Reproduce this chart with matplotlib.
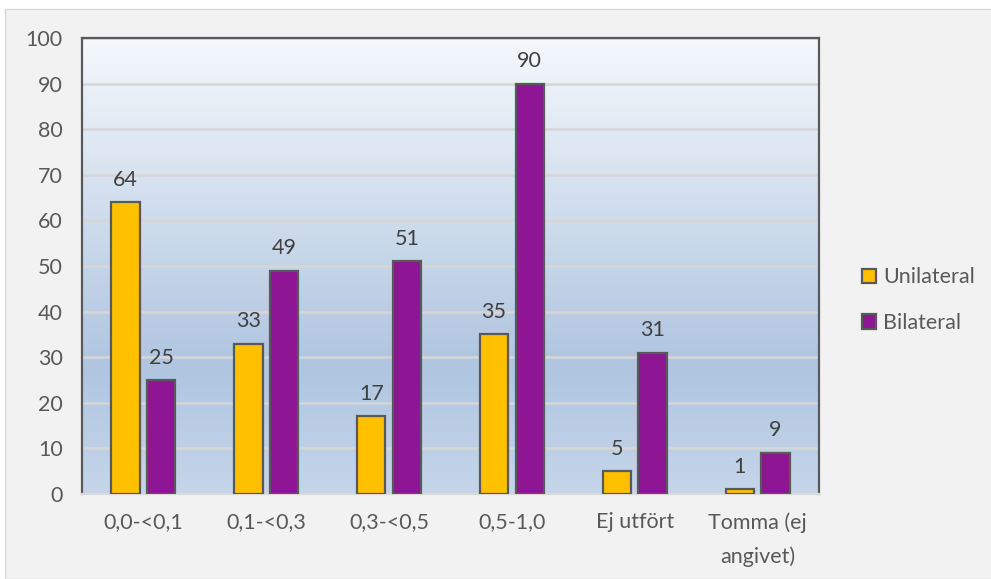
import numpy as np
import matplotlib
matplotlib.use("Agg")
import matplotlib.pyplot as plt
from matplotlib.colors import LinearSegmentedColormap
from matplotlib.patches import Rectangle

categories = ["0,0-<0,1", "0,1-<0,3", "0,3-<0,5", "0,5-1,0", "Ej utfört", "Tomma (ej\nangivet)"]
unilateral = [64, 33, 17, 35, 5, 1]
bilateral = [25, 49, 51, 90, 31, 9]
series_names = ["Unilateral", "Bilateral"]

plt.rcParams["font.family"] = ["Lato", "DejaVu Sans"]
FS = 15.5

fig = plt.figure(figsize=(9.91, 5.79), dpi=100)
fig.patch.set_facecolor("white")
# grey chart area with thin border
fig.patches.append(Rectangle((5 / 991, 0), 1, (579 - 9) / 579, transform=fig.transFigure,
                             facecolor="#f2f2f2", edgecolor="#d9d9d9", lw=1, zorder=-5))

ax = fig.add_axes([82 / 991, 85 / 579, 737 / 991, 456 / 579])

# gradient background of plot area
cmap = LinearSegmentedColormap.from_list("bg", [(0, "#f5f8fc"), (0.72, "#afc5e0"), (1.0, "#c5d6ea")])
grad = np.linspace(0, 1, 256).reshape(-1, 1)
ax.imshow(grad, cmap=cmap, aspect="auto", extent=[0, 1, 0, 1], transform=ax.transAxes,
          zorder=0, interpolation="bicubic")

x = np.arange(len(categories))
w = 0.23
off = 0.145
b1 = ax.bar(x - off, unilateral, w, color="#ffc000", edgecolor="#595959", lw=1.6, zorder=3,
            label=series_names[0])
b2 = ax.bar(x + off, bilateral, w, color="#8e1593", edgecolor="#595959", lw=1.6, zorder=3,
            label=series_names[1])
for bars in (b1, b2):
    ax.bar_label(bars, padding=9, fontsize=FS, color="#404040")

ax.set_xlim(-0.5, len(categories) - 0.5)
ax.set_ylim(0, 100)
ax.set_yticks(range(0, 101, 10))
ax.yaxis.grid(True, color="#d6d6d6", lw=1.8, zorder=1)
ax.set_axisbelow(True)
ax.set_xticks(x)
ax.set_xticklabels(categories, fontsize=FS, color="#595959", linespacing=1.85, va="top")
ax.tick_params(axis="y", labelsize=FS, labelcolor="#595959", length=0, pad=14)
ax.tick_params(axis="x", length=0, pad=13)
for s in ax.spines.values():
    s.set_color("#595959")
    s.set_linewidth(1.6)
ax.spines["bottom"].set_color("#d9d9d9")

leg = fig.legend(handles=[b1, b2], loc="upper left", bbox_to_anchor=(843 / 991, 1 - 248 / 579),
                 frameon=False, fontsize=FS, handlelength=0.65, handleheight=0.65,
                 handletextpad=0.3, labelspacing=1.2, labelcolor="#595959")

fig.savefig("out.png", dpi=100, facecolor=fig.get_facecolor())
